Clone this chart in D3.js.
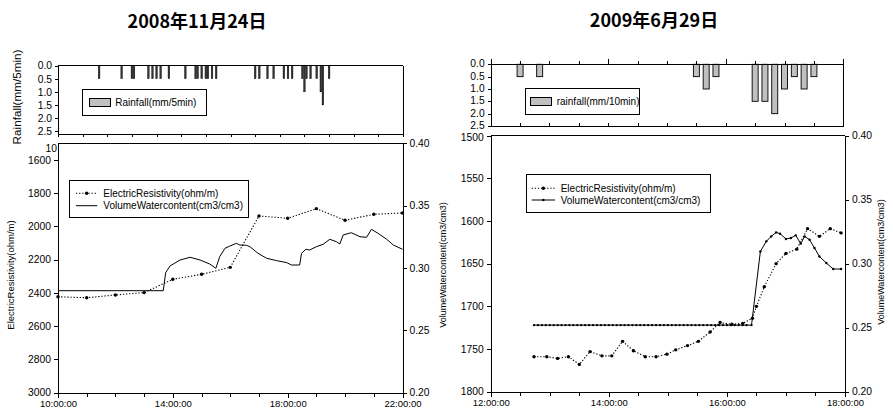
<!DOCTYPE html>
<html><head><meta charset="utf-8">
<script src="https://cdn.jsdelivr.net/npm/d3@7/dist/d3.min.js"></script>
<style>
body{margin:0;background:#fff}
svg{display:block}
text{font-family:Arial,"Liberation Sans",sans-serif;fill:#000}
.title{font-family:"Noto Sans CJK JP","Noto Sans CJK SC",sans-serif;font-weight:700}
.ax path,.ax line{stroke:#000;stroke-width:1;shape-rendering:crispEdges}
.ax text{font-size:10.3px}
.xax text{font-size:9.5px}
</style>
</head><body>
<svg id="c" width="893" height="416"></svg>
<script>
// ---------------- DATA ----------------
const leftTitle = "2008年11月24日";
const rightTitle = "2009年6月29日";

const rainTicks = [0, 0.5, 1.0, 1.5, 2.0, 2.5];
const vwcTicks = [0.20, 0.25, 0.30, 0.35, 0.40];

// left chart (2008-11-24)
const leftXTicks = ["10:00:00", "14:00:00", "18:00:00", "22:00:00"];
const leftERTicks = [1600, 1800, 2000, 2200, 2400, 2600, 2800, 3000];
const leftRainTimes = ["9:40","10:35","11:00","11:05","11:40","11:50","12:00","12:10","12:30","13:10","13:35","13:40","13:50","14:00","14:05","14:15","14:25","16:00","16:10","16:30","16:45","17:10","17:20","17:30","17:55","18:00","18:05","18:15","18:30","18:40","18:45","19:00"];
const leftRainValues = [0.5,0.5,0.5,0.5,0.5,0.5,0.5,0.5,0.5,0.5,0.5,0.5,0.5,0.5,0.5,0.5,0.5,0.5,0.5,0.5,0.5,0.5,0.5,0.5,0.5,1.0,0.5,0.5,0.5,1.0,1.5,0.5];
const leftERTimes = ["10:00","11:00","12:00","13:00","14:00","15:00","16:00","17:00","18:00","19:00","20:00","21:00","22:00"];
const leftERValues = [2423,2429,2412,2398,2318,2288,2246,1937,1951,1893,1963,1927,1919];
const leftVWCTimes = ["10:00","13:40","13:45","13:54","14:15","14:36","14:57","15:17","15:30","15:38","15:49","15:59","16:13","16:20","16:34","16:41","16:58","17:16","17:37","17:58","18:08","18:25","18:29","18:38","18:46","19:00","19:14","19:28","19:42","19:49","19:56","20:13","20:31","20:45","20:55","21:09","21:27","21:41","22:00"];
const leftVWCValues = [0.2818,0.2818,0.2962,0.3016,0.3064,0.3086,0.3064,0.3032,0.2998,0.3091,0.3158,0.3176,0.3198,0.3184,0.3182,0.3171,0.3118,0.3078,0.3059,0.3043,0.3024,0.3024,0.3118,0.3150,0.3144,0.3171,0.3190,0.3230,0.3211,0.3192,0.3265,0.3283,0.3251,0.3246,0.3310,0.3278,0.3230,0.3184,0.3150];

// right chart (2009-06-29)
const rightXTicks = ["12:00:00", "14:00:00", "16:00:00", "18:00:00"];
const rightERTicks = [1500, 1550, 1600, 1650, 1700, 1750, 1800];
const rightRainTimes = ["12:30","12:50","15:30","15:40","15:50","16:30","16:40","16:50","17:00","17:10","17:20","17:30"];
const rightRainValues = [0.5,0.5,0.5,1.0,0.5,1.5,1.5,2.0,1.0,0.5,1.0,0.5];
const rightERTimes = ["12:44","12:57","13:08","13:19","13:30","13:41","13:53","14:03","14:14","14:25","14:37","14:48","14:59","15:08","15:20","15:31","15:43","15:53","16:05","16:16","16:26","16:30","16:38","16:50","17:00","17:11","17:22","17:34","17:45","17:56"];
const rightERValues = [1759,1759,1761,1759,1768,1753,1758,1758,1741,1752,1759,1759,1756,1751,1746,1741,1730,1719,1721,1720,1714,1700,1677,1650,1638,1633,1609,1618,1609,1614];
const rightVWCTimes = ["12:44","12:48","12:52","12:56","13:00","13:04","13:08","13:12","13:16","13:20","13:24","13:28","13:32","13:36","13:40","13:44","13:48","13:52","13:56","14:00","14:04","14:08","14:12","14:16","14:20","14:24","14:28","14:32","14:36","14:40","14:44","14:48","14:52","14:56","15:00","15:04","15:08","15:12","15:16","15:20","15:24","15:28","15:32","15:36","15:40","15:44","15:48","15:52","15:56","16:00","16:04","16:08","16:12","16:16","16:20","16:25","16:34","16:40","16:45","16:50","16:54","17:00","17:05","17:10","17:15","17:19","17:24","17:29","17:34","17:41","17:48","17:56"];
const rightVWCValues = [0.252,0.252,0.252,0.252,0.252,0.252,0.252,0.252,0.252,0.252,0.252,0.252,0.252,0.252,0.252,0.252,0.252,0.252,0.252,0.252,0.252,0.252,0.252,0.252,0.252,0.252,0.252,0.252,0.252,0.252,0.252,0.252,0.252,0.252,0.252,0.252,0.252,0.252,0.252,0.252,0.252,0.252,0.252,0.252,0.252,0.252,0.252,0.252,0.252,0.252,0.252,0.252,0.252,0.252,0.252,0.252,0.3095,0.3174,0.3213,0.3244,0.3234,0.3193,0.3200,0.3221,0.3156,0.3213,0.3187,0.3122,0.3056,0.3005,0.2958,0.2958];

// ---------------- DRAW ----------------
const toH = s => { const p = s.split(":").map(Number); return p[0] + (p[1]||0)/60 + (p[2]||0)/3600; };
const svg = d3.select("#c");
const f0 = d3.format("d"), f1 = d3.format(".1f"), f2 = d3.format(".2f");

function hline(g, x1, x2, y, col){ g.append("line").attr("x1",x1).attr("x2",x2).attr("y1",y).attr("y2",y).attr("stroke",col||"#000").attr("shape-rendering","crispEdges"); }
function vline(g, x, y1, y2, col){ g.append("line").attr("x1",x).attr("x2",x).attr("y1",y1).attr("y2",y2).attr("stroke",col||"#000").attr("shape-rendering","crispEdges"); }
function vlabel(txt, x, y, size){ svg.append("text").attr("transform",`translate(${x},${y}) rotate(-90)`).attr("text-anchor","middle").style("font-size",size+"px").text(txt); }

function erLine(g, times, vals, x, y){
  const pts = times.map((t,i)=>[x(toH(t)), y(vals[i])]);
  g.append("path").attr("d", d3.line()(pts)).attr("fill","none").attr("stroke","#000").attr("stroke-width",1.1).attr("stroke-dasharray","1.3,1.8");
  g.selectAll(null).data(pts).join("circle").attr("cx",d=>d[0]).attr("cy",d=>d[1]).attr("r",1.7).attr("fill","#000");
}
function vwcLine(g, times, vals, x, y, markers){
  const pts = times.map((t,i)=>[x(toH(t)), y(vals[i])]);
  g.append("path").attr("d", d3.line()(pts)).attr("fill","none").attr("stroke","#000").attr("stroke-width",1);
  if (markers) g.selectAll(null).data(pts).join("circle").attr("cx",d=>d[0]).attr("cy",d=>d[1]).attr("r",1.2).attr("fill","#000");
}
function lineLegend(g, bx, by, bw, bh, entries){
  g.append("rect").attr("x",bx).attr("y",by).attr("width",bw).attr("height",bh).attr("fill","#fff").attr("stroke","#000").attr("shape-rendering","crispEdges");
  entries.forEach(e=>{
    const ln = g.append("line").attr("x1",e.x1).attr("x2",e.x2).attr("y1",e.y).attr("y2",e.y).attr("stroke","#000").attr("stroke-width",e.dotted?1.1:1);
    if (e.dotted) ln.attr("stroke-dasharray","1.3,1.8");
    if (e.marker) g.append("circle").attr("cx",(e.x1+e.x2)/2).attr("cy",e.y).attr("r",e.marker).attr("fill","#000");
    g.append("text").attr("x",e.tx).attr("y",e.y+3.6).style("font-size","10px").text(e.label);
  });
}
function rainLegend(g, bx, by, bw, bh, sx, sy, label){
  g.append("rect").attr("x",bx).attr("y",by).attr("width",bw).attr("height",bh).attr("fill","#fff").attr("stroke","#000").attr("shape-rendering","crispEdges");
  g.append("rect").attr("x",sx).attr("y",sy).attr("width",21).attr("height",8).attr("fill","#c0c0c0").attr("stroke","#000").attr("shape-rendering","crispEdges");
  g.append("text").attr("x",sx+26).attr("y",sy+7.5).style("font-size","10px").text(label);
}

// ===== LEFT CHART =====
svg.append("text").attr("class","title").attr("x",197).attr("y",28).attr("text-anchor","middle").style("font-size","18px").text(leftTitle);

// rainfall panel
const xLR = d3.scaleLinear([8,22],[58,403]);
const yLR = d3.scaleLinear([0,2.5],[65.7,131.2]);
const gLR = svg.append("g");
gLR.selectAll(null).data(leftRainTimes).join("rect")
  .attr("x",(d)=>xLR(toH(d))-0.9).attr("width",1.8)
  .attr("y",yLR(0)).attr("height",(d,i)=>yLR(leftRainValues[i])-yLR(0))
  .attr("fill","#333").attr("stroke","#000").attr("stroke-width",0.3);
gLR.append("g").attr("class","ax").attr("transform","translate(58,0)")
  .call(d3.axisLeft(yLR).tickValues(rainTicks).tickFormat(f1).tickSize(3).tickSizeOuter(0));
vline(gLR, 58, 131, 135);
hline(gLR, 58, 403, 65.7);
vline(gLR, 403, 65.7, 134);
gLR.append("g").attr("class","ax").attr("transform","translate(0,134)")
  .call(d3.axisBottom(xLR).tickValues(d3.range(8,23)).tickFormat("").tickSize(3).tickSizeOuter(0))
  .selectAll("path,line").attr("stroke","#444");
rainLegend(gLR, 82.3, 89.3, 123.7, 25.7, 89.3, 98.3, "Rainfall(mm/5min)");
vlabel("Rainfall(mm/5min)", 21, 97, 11.7);

// main panel
const xL = d3.scaleLinear([10,22],[58,402.5]);
const yLER = d3.scaleLinear([1500,3000],[143.3,392.7]);
const yLV = d3.scaleLinear([0.2,0.4],[392.7,143.3]);
const gL = svg.append("g");
// clipped leftover label at top of left axis
svg.append("clipPath").attr("id","topclip").append("rect").attr("x",0).attr("y",143.5).attr("width",60).attr("height",20);
gL.append("text").attr("clip-path","url(#topclip)").attr("x",57).attr("y",151.5).attr("text-anchor","end").style("font-size","10.3px").text("10");

vwcLine(gL, leftVWCTimes, leftVWCValues, xL, yLV, false);
erLine(gL, leftERTimes, leftERValues, xL, yLER);
gL.append("g").attr("class","ax").attr("transform","translate(58,0)")
  .call(d3.axisLeft(yLER).tickValues(leftERTicks).tickFormat(f0).tickSize(4).tickSizeOuter(0));
gL.append("g").attr("class","ax").attr("transform","translate(402.5,0)")
  .call(d3.axisRight(yLV).tickValues(vwcTicks).tickFormat(f2).tickSize(4).tickSizeOuter(0));
hline(gL, 58, 402.5, 143.3);
gL.append("g").attr("class","ax").attr("transform","translate(0,392.7)")
  .call(d3.axisBottom(xL).tickValues(d3.range(10,23)).tickFormat("").tickSize(4).tickSizeOuter(0));
gL.append("g").attr("class","ax xax").attr("transform","translate(0,392.7)")
  .call(d3.axisBottom(xL).tickValues(leftXTicks.map(toH)).tickFormat((d,i)=>leftXTicks[i]).tickSize(5).tickSizeOuter(0));
lineLegend(gL, 69, 180.7, 179.3, 36.6, [
  {x1:76, x2:97.3, y:193.3, tx:103.3, dotted:true, marker:1.7, label:"ElectricResistivity(ohm/m)"},
  {x1:76, x2:97.3, y:205.7, tx:103.3, dotted:false, marker:0, label:"VolumeWatercontent(cm3/cm3)"}
]);
vlabel("ElectricResistivity(ohm/m)", 14, 275, 9.5);
vlabel("VolumeWatercontent(cm3/cm3)", 446, 265, 9);

// ===== RIGHT CHART =====
svg.append("text").attr("class","title").attr("x",654).attr("y",26.5).attr("text-anchor","middle").style("font-size","18px").text(rightTitle);

const xRR = d3.scaleLinear([12,18],[490.7,843.3]);
const yRR = d3.scaleLinear([0,2.5],[64.3,126]);
const gRR = svg.append("g");
gRR.selectAll(null).data(rightRainTimes).join("rect")
  .attr("x",d=>xRR(toH(d))-3).attr("width",6)
  .attr("y",yRR(0)).attr("height",(d,i)=>yRR(rightRainValues[i])-yRR(0))
  .attr("fill","#c0c0c0").attr("stroke","#000").attr("stroke-width",0.9);
gRR.append("g").attr("class","ax").attr("transform","translate(490.7,0)")
  .call(d3.axisLeft(yRR).tickValues(rainTicks).tickFormat(f1).tickSize(3).tickSizeOuter(0))
  .selectAll("text").attr("dy","0.25em");
gRR.append("g").attr("class","ax").attr("transform","translate(0,64.3)")
  .call(d3.axisTop(xRR).tickValues(d3.range(12,18.01,0.5)).tickFormat("").tickSize(3).tickSizeOuter(0));
gRR.append("g").attr("class","ax").attr("transform","translate(0,64.3)")
  .call(d3.axisTop(xRR).tickValues(rightXTicks.map(toH)).tickFormat("").tickSize(5).tickSizeOuter(0));
gRR.append("g").attr("class","ax").attr("transform","translate(0,126)")
  .call(d3.axisBottom(xRR).tickValues(d3.range(12,18.01,0.5)).tickFormat("").tickSize(-3).tickSizeOuter(0));
vline(gRR, 843.3, 64.3, 126);
rainLegend(gRR, 525.7, 88.7, 113.3, 25.3, 530.7, 97.3, "rainfall(mm/10min)");

const xR = d3.scaleLinear([12,18],[490.7,845]);
const yRER = d3.scaleLinear([1500,1800],[135.6,391.7]);
const yRV = d3.scaleLinear([0.2,0.4],[391.7,135.6]);
const gR = svg.append("g");
vwcLine(gR, rightVWCTimes, rightVWCValues, xR, yRV, true);
erLine(gR, rightERTimes, rightERValues, xR, yRER);
gR.append("g").attr("class","ax").attr("transform","translate(490.7,0)")
  .call(d3.axisLeft(yRER).tickValues(rightERTicks).tickFormat(f0).tickSize(4).tickSizeOuter(0))
  .selectAll("text").filter(d=>d===1500).attr("dy","0.45em");
gR.append("g").attr("class","ax").attr("transform","translate(845,0)")
  .call(d3.axisRight(yRV).tickValues(vwcTicks).tickFormat(f2).tickSize(4).tickSizeOuter(0));
hline(gR, 490.7, 845, 135.6);
gR.append("g").attr("class","ax").attr("transform","translate(0,391.7)")
  .call(d3.axisBottom(xR).tickValues(d3.range(12,18.01,0.5)).tickFormat("").tickSize(4).tickSizeOuter(0));
gR.append("g").attr("class","ax xax").attr("transform","translate(0,391.7)")
  .call(d3.axisBottom(xR).tickValues(rightXTicks.map(toH)).tickFormat((d,i)=>rightXTicks[i]).tickSize(5).tickSizeOuter(0));
lineLegend(gR, 526, 174, 184, 38.3, [
  {x1:531.7, x2:555, y:188.3, tx:560.7, dotted:true, marker:1.7, label:"ElectricResistivity(ohm/m)"},
  {x1:531.7, x2:555, y:200, tx:560.7, dotted:false, marker:1.3, label:"VolumeWatercontent(cm3/cm3)"}
]);
vlabel("VolumeWatercontent(cm3/cm3)", 884, 262, 9);
</script>
</body></html>
